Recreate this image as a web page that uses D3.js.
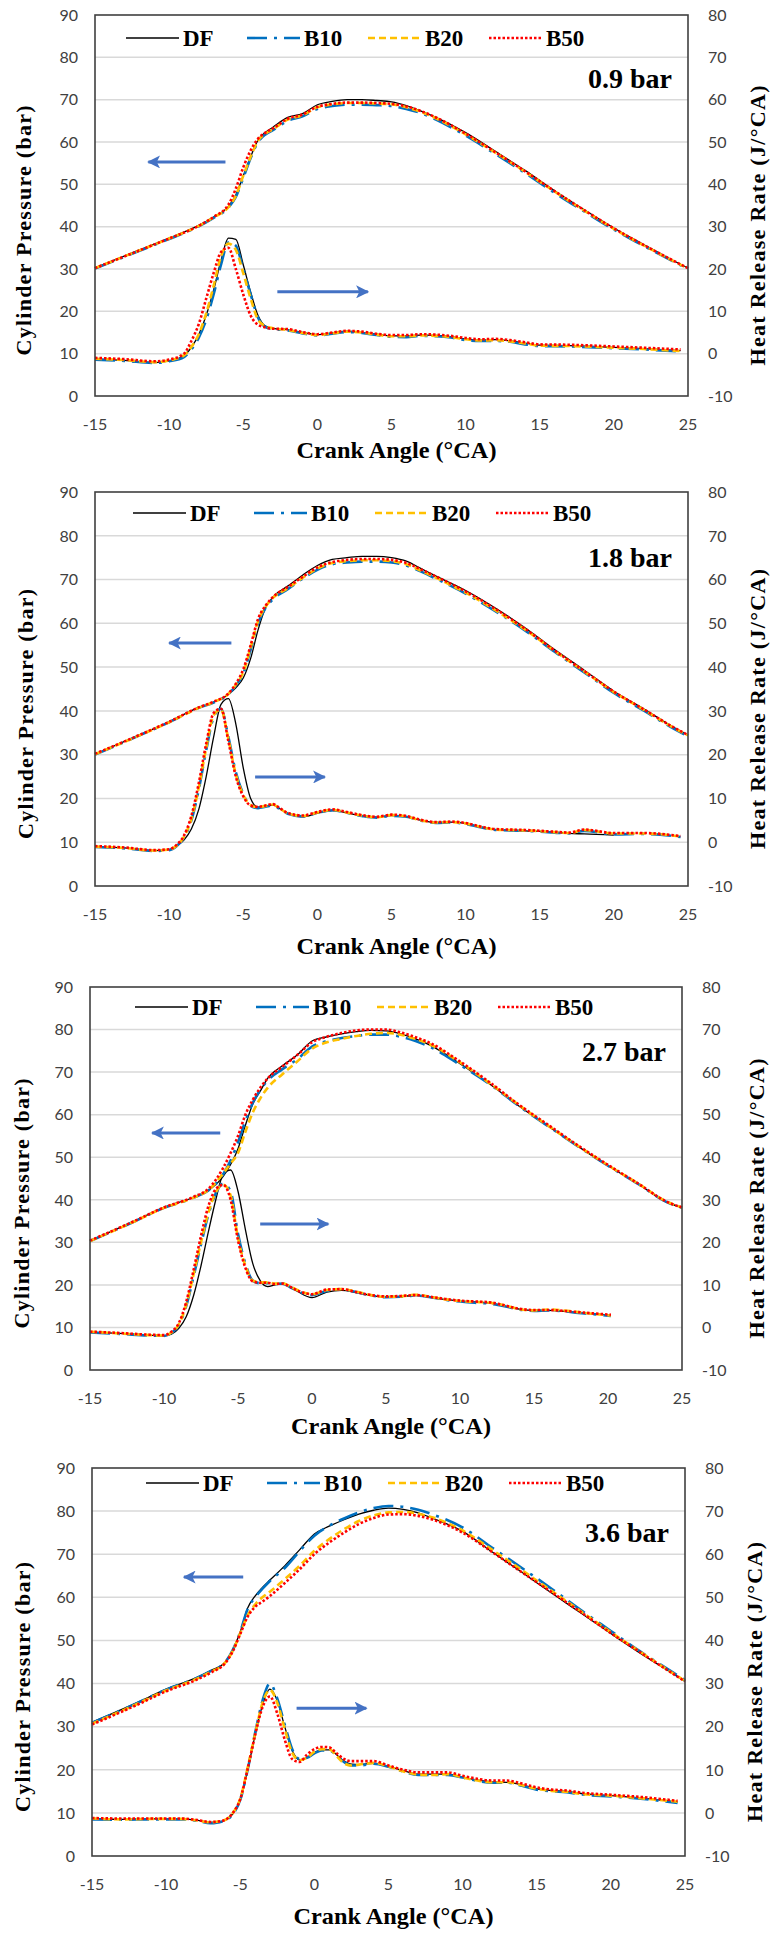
<!DOCTYPE html>
<html>
<head>
<meta charset="utf-8">
<script src="https://cdn.jsdelivr.net/npm/d3@7"></script>
<style>
	body { margin: 0; background: #fff; }
	.tick-lab { font-family: Lato, 'Open Sans', sans-serif; font-size: 16px; fill: #404040; }
	.title { font-family: 'Liberation Serif', serif; font-weight: bold; fill: #000; }
</style>
</head>
<body>
<svg id="fig" width="770" height="1934"></svg>
<script>
var series = ['DF', 'B10', 'B20', 'B50'];
var loads = ['0.9 bar', '1.8 bar', '2.7 bar', '3.6 bar'];
var xTicks = [-15, -10, -5, 0, 5, 10, 15, 20, 25];
var pTicks = [0, 10, 20, 30, 40, 50, 60, 70, 80, 90];
var hTicks = [-10, 0, 10, 20, 30, 40, 50, 60, 70, 80];

// crank angle grid for pressure (all panels)
var caP = [-15,-12,-10,-8,-7,-6,-5.5,-5,-4.5,-4,-3.5,-3,-2,-1,0,1,2,3,4,5,6,7,8,10,12,14,16,18,20,22,24,25];

// ---- 0.9 bar
var p1DF  = [30.3,34.5,37.3,40.3,42.3,44.8,47.5,52,56.5,60.5,62.3,63.5,65.8,66.7,68.8,69.6,70,70,69.8,69.5,68.6,67.3,65.8,62.2,57.8,53.3,48.5,44,39.7,35.8,32,30.2];
var p1B10 = [30.1,34.3,37.1,40.1,42.1,44.5,47,51.5,56.2,60,61.8,62.8,65,66.1,67.8,68.5,68.8,68.8,68.7,68.5,67.8,66.8,65.3,61.5,57.2,52.7,48,43.6,39.3,35.5,31.8,30];
var p1B20 = [30.2,34.4,37.2,40.2,42.2,44.6,47.3,52,56.5,60.3,62,63,65.3,66.3,68.2,68.9,69.2,69.2,69.1,68.9,68.2,67.1,65.6,61.8,57.5,53,48.3,43.8,39.5,35.6,31.9,30.1];
var p1B50 = [30.2,34.4,37.2,40.2,42.3,45.2,49,54,58,60.8,62.2,63.2,65.5,66.5,68.3,69,69.3,69.3,69.2,69,68.4,67.3,65.8,62,57.6,53.1,48.4,43.9,39.6,35.7,32,30.2];
var hca1  = [-15,-13,-11,-10,-9,-8.5,-8,-7.5,-7,-6.5,-6,-5.5,-5,-4.5,-4,-3.5,-3,-2,-1,0,1,2,3,4,5,6,7,8,9,10,11,12,13,14,15,17,20,22,24.5];
var h1DF  = [-1.3,-1.6,-2.1,-1.7,-0.5,1.5,4.5,9,15,22,27.3,27,21,14.5,9,6.5,6,5.7,5,4.5,4.9,5.3,5,4.6,4.2,4.2,4.4,4.3,4,3.5,3.2,3.3,3,2.5,2,1.9,1.5,1.2,0.7];
var h1B10 = [-1.4,-1.7,-2.2,-1.8,-0.8,1,3.8,8,14,21,26.3,25.5,20,14,8.5,6.3,5.8,5.5,4.8,4.3,4.7,5.1,4.9,4.4,4,3.9,4.2,4.1,3.8,3.2,3,3,2.8,2.2,1.8,1.7,1.3,1,0.5];
var h1B20 = [-1.2,-1.5,-2,-1.6,-0.4,1.6,4.6,9.5,16,23,26,24.5,19,13,8,6.5,6,5.6,4.9,4.4,4.8,5.2,5,4.5,4.1,4.1,4.3,4.2,3.9,3.4,3.1,3.2,2.9,2.4,1.9,1.8,1.4,1.1,0.6];
var h1B50 = [-1,-1.3,-1.8,-1.4,0,3,7,13,19,24,25,20,14,9,6.8,6.2,5.9,5.8,5.1,4.6,5,5.4,5.2,4.7,4.4,4.4,4.6,4.5,4.2,3.7,3.4,3.5,3.2,2.7,2.2,2.1,1.7,1.4,1];

// ---- 1.8 bar
var p2DF  = [30.1,34.5,37.5,40.8,42,43.8,45.3,47.5,52,58.5,63.5,66,68.5,71,73.2,74.6,75,75.3,75.3,75,74.2,72.5,70.8,67.5,63.5,59,54,49.3,44.5,40.5,36.3,34.5];
var p2B10 = [30,34.4,37.4,40.7,41.9,43.8,45.8,48.5,54,60,63.5,65.5,67.8,70.2,72.2,73.5,73.9,74.1,74.1,73.9,73.2,71.8,70.2,66.8,62.8,58.4,53.5,48.8,44.1,40.1,36,34.2];
var p2B20 = [30.1,34.4,37.4,40.7,42,43.9,46,48.8,54.5,60.5,63.8,65.8,68,70.4,72.5,73.8,74.2,74.4,74.4,74.2,73.5,72,70.4,67,63,58.6,53.7,49,44.3,40.3,36.2,34.4];
var p2B50 = [30.2,34.5,37.5,40.8,42.1,44,46.2,49.5,55,61,64,66,68.3,70.6,72.8,74,74.5,74.7,74.7,74.5,73.8,72.3,70.7,67.3,63.3,58.8,53.8,49.1,44.4,40.4,36.3,34.5];
var hca2  = [-15,-13,-11,-10,-9.5,-9,-8.5,-8,-7.5,-7,-6.5,-6,-5.5,-5,-4.5,-4,-3.5,-3,-2.5,-2,-1,0,1,2,3,4,5,6,7,8,9,10,11,12,14,16,17,18,20,22,24.5];
var h2DF  = [-1,-1.3,-1.9,-1.7,-0.8,0.5,3,7.5,15,24,31.5,32.8,27,17,10,8,8.3,8.5,7.6,6.6,5.8,6.6,7.2,6.7,6,5.7,6.1,5.8,5,4.5,4.6,4.3,3.5,2.9,2.6,2.3,2,1.9,1.6,null,null];
var h2B10 = [-1.1,-1.4,-2,-1.8,-0.9,1,5,12,21,28.5,30.5,24,16,11,8.3,7.8,8.1,8.4,7.5,6.5,5.9,6.7,7.3,6.7,6,5.6,6,5.8,4.9,4.4,4.5,4.2,3.4,2.8,2.6,2.2,2,2.6,1.8,1.9,1.2];
var h2B20 = [-1,-1.3,-1.9,-1.7,-0.8,1.2,5.3,12.5,21.5,29,30.3,23.5,15.5,10.8,8.5,8,8.3,8.6,7.6,6.6,6,6.8,7.4,6.8,6.1,5.7,6.2,5.9,5,4.5,4.6,4.3,3.5,2.9,2.7,2.3,2.1,2.8,2,2,1.3];
var h2B50 = [-0.9,-1.2,-1.8,-1.6,-0.6,1.5,6,13.5,22.5,29.5,30.5,23,15,10.5,8.4,8.1,8.4,8.7,7.7,6.7,6.1,6.9,7.5,6.9,6.2,5.8,6.3,6,5.1,4.6,4.7,4.4,3.6,3,2.8,2.4,2.2,2.9,2.1,2.1,1.4];

// ---- 2.7 bar
var p3DF  = [30.4,35,38.2,40.6,42.2,45.5,48.3,52,57.5,62.5,65.5,68.5,71.5,74,77.3,78.3,79,79.5,79.8,79.7,79,77.8,76.3,72,67.2,62,57.2,52.5,48,43.8,39.4,38.2];
var p3B10 = [30.3,34.9,38.1,40.5,42.2,46,49.2,53.5,58.5,62.8,65.8,68,70.7,73,76,77.3,78,78.5,78.8,78.8,78.3,77.3,75.9,71.7,67.2,62,57.2,52.5,48,43.8,39.4,38.1];
var p3B20 = [30.3,34.9,38.1,40.5,42.3,46.2,48.5,51,56,60.5,63.8,66.3,69.5,72.5,75.5,77,77.8,78.5,79,79.2,78.8,77.8,76.5,72.3,67.4,62.2,57.3,52.6,48.1,43.9,39.5,38.2];
var p3B50 = [30.4,35,38.2,40.7,42.6,47.5,51,55,60,63.5,66.3,68.5,71.3,74,77,78.3,79.2,79.8,80,80,79.3,78.2,76.8,72.5,67.6,62.3,57.5,52.7,48.2,43.9,39.5,38.2];
var hca3  = [-15,-13,-11,-10,-9.5,-9,-8.5,-8,-7.5,-7,-6.5,-6,-5.5,-5,-4.5,-4,-3.5,-3,-2.5,-2,-1.5,-1,0,1,2,3,4,5,6,7,8,9,10,11,12,13,14,15,16,17,18,19,20.2];
var h3DF  = [-1.1,-1.4,-1.8,-2,-1.6,-0.2,2.5,7.5,14.5,22.5,30,36,37,32,23,15,11,9.6,10,10.3,9.5,8.5,7,8.3,8.7,8.2,7.5,7.2,7.3,7.5,7.1,6.6,6.2,6,5.7,5,4.3,4,4,3.8,3.5,3.2,2.9];
var h3B10 = [-1.2,-1.5,-1.9,-2,-1.3,0.5,5,12,19.5,26.5,31.5,33.8,32,22,15,11,10.4,10.4,10.2,10.3,9.5,8.6,7.6,8.6,8.9,8.3,7.5,7.1,7.2,7.5,7.1,6.5,6.1,5.8,5.6,5,4.2,3.9,4,3.8,3.4,3.1,2.7];
var h3B20 = [-1,-1.4,-1.8,-1.9,-1.2,0.7,5.3,12.5,20,27,31.8,33.5,31,21,14.5,11,10.6,10.6,10.3,10.4,9.7,8.8,7.8,8.8,9,8.4,7.6,7.2,7.3,7.7,7.2,6.6,6.2,6,5.8,5.2,4.3,4,4.2,4,3.6,3.2,2.8];
var h3B50 = [-1,-1.3,-1.7,-1.8,-1,1,6,13.5,21.5,28.5,32.5,33.5,30,20.5,14,10.8,10.5,10.5,10.2,10.3,9.6,8.7,7.8,8.9,9,8.3,7.6,7.3,7.4,7.6,7.2,6.7,6.3,6.1,5.9,5.2,4.4,4.1,4.1,3.9,3.6,3.3,3];

// ---- 3.6 bar
var p4DF  = [31,35.5,38.7,41.3,43,45,47.8,52,57.5,60.3,62.3,64,67.3,71,74.7,76.5,78,79.3,80.2,80.7,80.4,79.6,78.3,75.3,70.5,65.8,61,56.3,51.6,47,42.7,40.5];
var p4B10 = [30.9,35.4,38.6,41.2,42.9,45,47.8,52,57.3,60,62,63.8,66.8,70.7,74.3,76.6,78.3,79.7,80.7,81.2,81,80.3,79.2,76.2,71.5,66.8,62,57,52.2,47.4,43,40.8];
var p4B20 = [30.7,35.2,38.4,41,42.7,44.9,47.6,51.7,55.8,58.3,60,61.3,64.2,67.3,70.8,73.5,75.8,77.7,79,79.7,79.8,79.4,78.5,75.5,71,66.3,61.5,56.7,51.9,47.3,42.8,40.6];
var p4B50 = [30.5,35,38.2,40.8,42.5,44.8,47.5,51.5,55.5,57.8,59,60.3,63.3,66.5,70,72.7,75,77,78.4,79.2,79.3,78.9,78,75,70.5,65.8,61.2,56.5,51.7,47.2,42.7,40.5];
var hca4  = [-15,-13,-11,-10,-9,-8,-7,-6.5,-6,-5.5,-5,-4.5,-4,-3.5,-3,-2.5,-2,-1.5,-1,-0.5,0,0.5,1,1.5,2,2.5,3,4,5,6,7,8,9,10,11,12,13,14,15,16,17,18,20,22,24.5];
var h4DF  = [-1.3,-1.5,-1.4,-1.4,-1.4,-1.7,-2.2,-2.1,-1.7,-0.2,3,10,18,25,28.7,26,20,14.5,12.3,12.8,14,14.6,14.6,13.5,12,11.3,11.2,11.5,10.8,9.8,9,9,9,8.3,7.6,7.2,7.1,6.5,5.6,5.2,5,4.5,4,3.5,2.5];
var h4B10 = [-1.5,-1.6,-1.5,-1.5,-1.5,-1.8,-2.4,-2.2,-1.8,-0.3,3,10,18.5,26,30,26.5,20.5,14.8,12.5,12.8,13.8,14.5,14.5,13.3,11.8,11,11,11.4,10.7,9.6,8.8,8.8,8.8,8.2,7.4,7,7,6.3,5.4,5,4.8,4.3,3.8,3.3,2.3];
var h4B20 = [-1.3,-1.5,-1.4,-1.4,-1.4,-1.7,-2.2,-2,-1.6,0,3.3,10.5,18.3,25.5,28.5,25.5,19.5,14,12.2,12.8,14.2,14.8,14.8,13.2,11.5,11,11.2,11.6,10.8,9.6,8.9,8.8,9,8.2,7.5,7.1,7.1,6.4,5.6,5.1,4.9,4.4,4,3.4,2.6];
var h4B50 = [-1.2,-1.3,-1.3,-1.3,-1.3,-1.6,-2.1,-2,-1.6,0,3.2,10.2,18,24.5,27,23,17,12.5,11.8,13.5,14.8,15.3,15.2,13.8,12.5,12,12,12,11,10,9.4,9.4,9.4,8.6,7.9,7.5,7.5,6.8,5.9,5.4,5.2,4.7,4.2,3.7,2.8];

// arrows: [tail CA, tip CA, pressure level]
var arrowsL = [[-6.2,-11.4,55.3],[-5.8,-10.0,55.5],[-6.2,-10.8,55.7],[-4.8,-8.8,64.7]];
var arrowsR = [[-2.7,3.4,24.6],[-4.2,0.5,24.9],[-3.5,1.1,34.3],[-1.2,3.5,34.3]];

var styles = {
	DF:  {color: '#000000', width: 1.3, dash: null},
	B10: {color: '#0070C0', width: 2.6, dash: '20,7,3,7'},
	B20: {color: '#FFC000', width: 2.6, dash: '7,4'},
	B50: {color: '#FF0000', width: 2.6, dash: '2.5,2'}
};

// plot boxes and text offsets (pixels)
var panels = [
	{box: {l: 95, r: 688, t: 15, b: 396}, p: [p1DF,p1B10,p1B20,p1B50], hca: hca1, h: [h1DF,h1B10,h1B20,h1B50], legX: 126, legDy: 23, xtDy: 62, ytX: 31, rtX: 765},
	{box: {l: 95, r: 688, t: 492, b: 886}, p: [p2DF,p2B10,p2B20,p2B50], hca: hca2, h: [h2DF,h2B10,h2B20,h2B50], legX: 133, legDy: 21, xtDy: 68, ytX: 33, rtX: 765},
	{box: {l: 90, r: 682, t: 987, b: 1370}, p: [p3DF,p3B10,p3B20,p3B50], hca: hca3, h: [h3DF,h3B10,h3B20,h3B50], legX: 135, legDy: 20, xtDy: 64, ytX: 29, rtX: 764},
	{box: {l: 92, r: 685, t: 1468, b: 1856}, p: [p4DF,p4B10,p4B20,p4B50], hca: hca4, h: [h4DF,h4B10,h4B20,h4B50], legX: 146, legDy: 15, xtDy: 68, ytX: 30, rtX: 762}
];

var svg = d3.select('#fig');
svg.append('rect').attr('width', 770).attr('height', 1934).attr('fill', '#fff');

var defs = svg.append('defs');
defs.append('marker').attr('id', 'ahead')
	.attr('viewBox', '0 0 10 10').attr('refX', 9).attr('refY', 5)
	.attr('markerWidth', 13).attr('markerHeight', 13).attr('markerUnits', 'userSpaceOnUse')
	.attr('orient', 'auto')
	.append('path').attr('d', 'M0,0 L10,5 L0,10 L2.5,5 Z').attr('fill', '#4472C4');

function draw_panel(pan, k) {
	var b = pan.box;
	var g = svg.append('g');
	var x = d3.scaleLinear().domain([-15, 25]).range([b.l, b.r]);
	var yP = d3.scaleLinear().domain([0, 90]).range([b.b, b.t]);
	var yH = d3.scaleLinear().domain([-10, 80]).range([b.b, b.t]);

	// gridlines
	g.selectAll('.grid').data(pTicks.filter(d => d > 0 && d < 90)).enter().append('line')
		.attr('x1', b.l).attr('x2', b.r).attr('y1', d => yP(d)).attr('y2', d => yP(d))
		.attr('stroke', '#d9d9d9').attr('stroke-width', 1.5);

	// tick labels
	g.selectAll('.yl').data(pTicks).enter().append('text').attr('class', 'tick-lab')
		.attr('x', b.l - 17).attr('y', d => yP(d)).attr('dy', '0.36em').attr('text-anchor', 'end').text(d => d);
	g.selectAll('.yr').data(hTicks).enter().append('text').attr('class', 'tick-lab')
		.attr('x', b.r + 20).attr('y', d => yH(d)).attr('dy', '0.36em').attr('text-anchor', 'start').text(d => d);
	g.selectAll('.xl').data(xTicks).enter().append('text').attr('class', 'tick-lab')
		.attr('x', d => x(d)).attr('y', b.b + 34).attr('text-anchor', 'middle').text(d => d);

	// curves
	var line_p = d3.line().defined(d => d[1] != null).x(d => x(d[0])).y(d => yP(d[1])).curve(d3.curveMonotoneX);
	var line_h = d3.line().defined(d => d[1] != null).x(d => x(d[0])).y(d => yH(d[1])).curve(d3.curveMonotoneX);
	series.forEach(function(s, i) {
		var st = styles[s];
		[line_p(d3.zip(caP, pan.p[i])), line_h(d3.zip(pan.hca, pan.h[i]))].forEach(function(path_d) {
			g.append('path').attr('d', path_d).attr('fill', 'none')
				.attr('stroke', st.color).attr('stroke-width', st.width)
				.attr('stroke-dasharray', st.dash).attr('stroke-linejoin', 'round');
		});
	});

	// plot border
	g.append('rect').attr('x', b.l).attr('y', b.t).attr('width', b.r - b.l).attr('height', b.b - b.t)
		.attr('fill', 'none').attr('stroke', '#404040').attr('stroke-width', 1.6);

	// legend
	var legG = g.append('g').attr('transform', 'translate(' + pan.legX + ',' + (b.t + pan.legDy) + ')');
	series.forEach(function(s, i) {
		var st = styles[s];
		var ox = i * 121;
		legG.append('line').attr('x1', ox).attr('x2', ox + 53).attr('y1', 0).attr('y2', 0)
			.attr('stroke', st.color).attr('stroke-width', st.width).attr('stroke-dasharray', st.dash);
		legG.append('text').attr('class', 'title').attr('x', ox + 57).attr('y', 0).attr('dy', '0.35em')
			.attr('font-size', 23).text(s);
	});

	// load label
	g.append('text').attr('class', 'title').attr('x', b.r - 16).attr('y', yP(75)).attr('dy', '0.35em')
		.attr('text-anchor', 'end').attr('font-size', 28).text(loads[k]);

	// arrows
	[arrowsL[k], arrowsR[k]].forEach(function(a) {
		g.append('line').attr('x1', x(a[0])).attr('x2', x(a[1])).attr('y1', yP(a[2])).attr('y2', yP(a[2]))
			.attr('stroke', '#4472C4').attr('stroke-width', 3).attr('marker-end', 'url(#ahead)');
	});

	// axis titles
	var cy = (b.t + b.b) / 2;
	g.append('text').attr('class', 'title').attr('font-size', 23)
		.attr('x', (b.l + b.r) / 2 + 5).attr('y', b.b + pan.xtDy).attr('text-anchor', 'middle')
		.attr('textLength', 200).attr('lengthAdjust', 'spacingAndGlyphs')
		.text('Crank Angle (\u00B0CA)');
	g.append('text').attr('class', 'title').attr('font-size', 22)
		.attr('transform', 'translate(' + pan.ytX + ',' + (cy + 25) + ') rotate(-90)')
		.attr('text-anchor', 'middle').attr('textLength', 250).attr('lengthAdjust', 'spacing')
		.text('Cylinder  Pressure  (bar)');
	g.append('text').attr('class', 'title').attr('font-size', 22)
		.attr('transform', 'translate(' + pan.rtX + ',' + (cy + 20) + ') rotate(-90)')
		.attr('text-anchor', 'middle').attr('textLength', 280).attr('lengthAdjust', 'spacing')
		.text('Heat Release Rate (J/\u00B0CA)');
}

panels.forEach(draw_panel);
</script>
</body>
</html>
